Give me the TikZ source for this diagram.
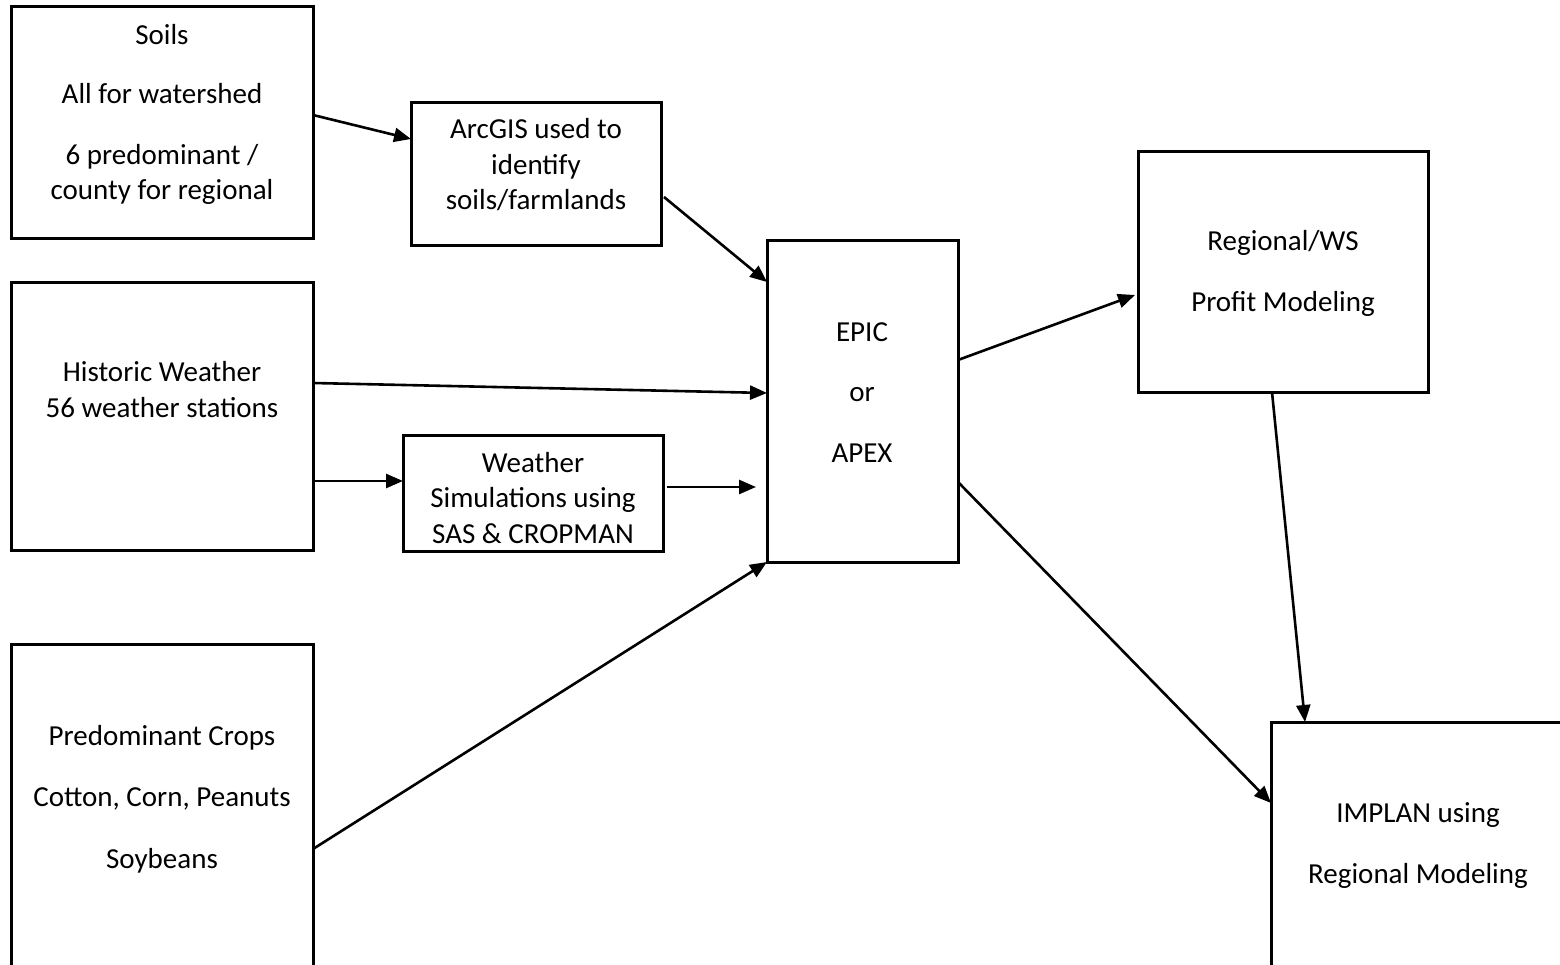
\documentclass[tikz,border=0pt]{standalone}
\usepackage{fontspec}
\setmainfont{Carlito}
\usetikzlibrary{arrows.meta,calc}
\begin{document}
\begin{tikzpicture}[x=1pt,y=-1pt,
  box/.style={draw=black,line width=3pt,rectangle,inner sep=0pt,outer sep=0pt,anchor=north west},
  txt/.style={align=center,anchor=base,inner sep=0pt,font=\fontsize{29}{35.5}\selectfont},
  conn/.style={draw=black,line width=2.6pt,-{Triangle[length=17pt,width=14pt]}}]
\useasboundingbox (0,0) rectangle (1560,965);
\clip (0,0) rectangle (1560,965);
% boxes
\node[box,minimum width=302pt,minimum height=232pt] (soils) at (11,7) {};
\node[box,minimum width=250pt,minimum height=143pt] (arcgis) at (411,103) {};
\node[box,minimum width=302pt,minimum height=267pt] (historic) at (11,283) {};
\node[box,minimum width=260pt,minimum height=116pt] (weather) at (403,435) {};
\node[box,minimum width=191pt,minimum height=321pt] (epic) at (767,241) {};
\node[box,minimum width=290pt,minimum height=240pt] (regional) at (1138,152) {};
\node[box,minimum width=302pt,minimum height=400pt] (crops) at (11,644) {};
\node[box,minimum width=400pt,minimum height=400pt] (implan) at (1271,722) {};
% texts (anchor = baseline of last line)
\node[txt] (soilsT) at (162,200) {Soils\\[24pt]All for watershed\\[25pt]6 predominant /\\county for regional};
\node[txt] (arcgisT) at (536,210) {ArcGIS used to\\identify\\soils/farmlands};
\node[txt] (historicT) at (162,417) {Historic Weather\\56 weather stations};
\node[txt] (weatherT) at (533,543) {Weather\\Simulations using\\SAS \& CROPMAN};
\node[txt] (epicT) at (862,462) {EPIC\\[25pt]or\\[25pt]APEX};
\node[txt] (regionalT) at (1283,312) {Regional/WS\\[26pt]Profit Modeling};
\node[txt] (cropsT) at (162,868) {Predominant Crops\\[26pt]Cotton, Corn, Peanuts\\[26pt]Soybeans};
\node[txt] (implanT) at (1418,883) {IMPLAN using\\[25pt]Regional Modeling};
% connectors
\draw[conn] ($(soils.north east)+(0,108)$) -- ($(arcgis.north west)+(0,36)$);
\draw[conn] ($(arcgis.south east)+(3,-49)$) -- ($(epic.north west)+(0,41)$);
\draw[conn] ($(historic.north east)+(0,100)$) -- ($(epic.north west)+(0,152)$);
\draw[conn] ($(historic.north east)+(0,198)$) -- ($(weather.north west)+(0,46)$);
\draw[conn] ($(weather.north east)+(4,52)$) -- ($(epic.north west)+(-11,246)$);
\draw[conn] ($(crops.north east)+(0,205)$) -- (epic.south west);
\draw[conn] ($(epic.north east)+(0,119)$) -- ($(regional.north west)+(-3,143)$);
\draw[conn] ($(epic.north east)+(0,241)$) -- ($(implan.north west)+(0,81)$);
\draw[conn] ($(regional.south west)+(134,0)$) -- ($(implan.north west)+(34,0)$);
\end{tikzpicture}
\end{document}
